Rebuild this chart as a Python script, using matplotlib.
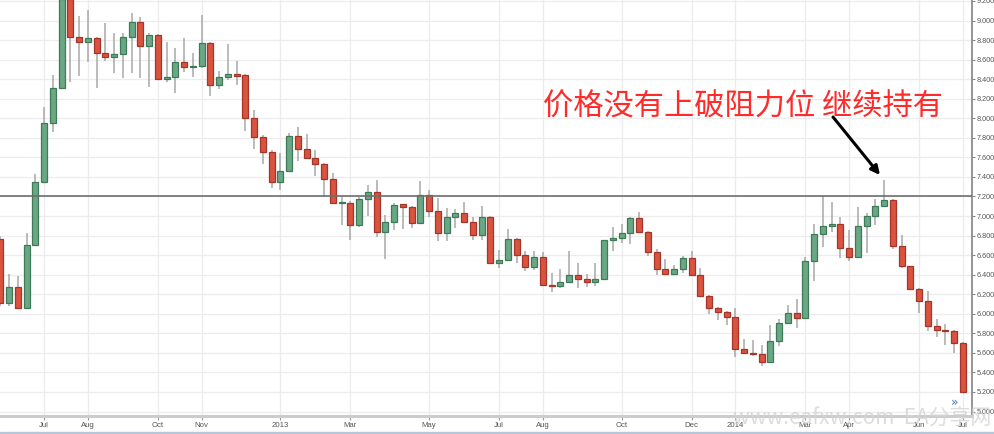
import matplotlib
matplotlib.use('Agg')
import matplotlib.pyplot as plt
import matplotlib.dates as mdates
from matplotlib.patches import Rectangle
import numpy as np
import pandas as pd

# ---- data (weekly candles) ----
first_week = '2012-05-28'
opens = [6.77, 6.11, 6.27, 6.06, 6.70, 7.35, 7.95, 8.31, 9.22, 8.83,
         8.78, 8.82, 8.67, 8.63, 8.66, 8.83, 8.99, 8.74, 8.85, 8.40,
         8.42, 8.58, 8.52, 8.53, 8.77, 8.34, 8.42, 8.45, 8.44, 8.00,
         7.81, 7.66, 7.35, 7.46, 7.82, 7.69, 7.59, 7.53, 7.38, 7.13,
         7.13, 6.91, 7.17, 7.25, 6.84, 6.94, 7.12, 7.09, 6.93, 7.22,
         7.05, 6.83, 6.99, 7.03, 6.94, 6.81, 6.99, 6.52, 6.55, 6.77,
         6.60, 6.48, 6.58, 6.29, 6.28, 6.33, 6.40, 6.36, 6.33, 6.36,
         6.75, 6.78, 6.83, 6.98, 6.84, 6.63, 6.46, 6.41, 6.46, 6.57,
         6.40, 6.18, 6.06, 6.02, 5.97, 5.64, 5.60, 5.59, 5.51, 5.72,
         5.91, 6.01, 5.96, 6.54, 6.82, 6.90, 6.92, 6.67, 6.58, 6.90,
         7.00, 7.10, 7.16, 6.69, 6.49, 6.25, 6.13, 5.88, 5.83, 5.82,
         5.70]
highs = [6.80, 6.41, 6.39, 6.83, 7.43, 8.12, 8.44, 9.25, 9.24, 9.05,
         9.11, 8.83, 8.97, 8.87, 8.87, 9.08, 9.04, 8.87, 8.86, 8.78,
         8.72, 8.82, 8.67, 9.06, 8.78, 8.48, 8.76, 8.59, 8.45, 8.08,
         7.83, 7.68, 7.64, 7.85, 7.91, 7.84, 7.68, 7.54, 7.44, 7.19,
         7.15, 7.19, 7.32, 7.37, 7.01, 7.13, 7.12, 7.10, 7.36, 7.27,
         7.18, 7.08, 7.07, 7.14, 6.99, 7.10, 7.00, 6.65, 6.87, 6.78,
         6.64, 6.64, 6.63, 6.42, 6.46, 6.64, 6.52, 6.41, 6.52, 6.76,
         6.89, 6.92, 6.99, 7.04, 6.85, 6.66, 6.56, 6.50, 6.59, 6.64,
         6.47, 6.19, 6.07, 6.03, 6.06, 5.74, 5.73, 5.68, 5.89, 5.95,
         6.09, 6.15, 6.58, 6.92, 7.20, 7.14, 6.99, 6.86, 7.09, 7.03,
         7.17, 7.37, 7.17, 6.81, 6.49, 6.26, 6.23, 5.95, 5.90, 5.83,
         5.71]
lows = [6.08, 6.08, 6.05, 6.05, 6.69, 7.34, 7.86, 8.30, 8.37, 8.43,
        8.58, 8.31, 8.59, 8.46, 8.41, 8.46, 8.41, 8.32, 8.39, 8.37,
        8.26, 8.47, 8.42, 8.51, 8.23, 8.30, 8.39, 8.34, 7.87, 7.69,
        7.53, 7.29, 7.27, 7.46, 7.56, 7.59, 7.41, 7.19, 7.12, 6.91,
        6.76, 6.89, 7.00, 6.79, 6.56, 6.86, 6.87, 6.88, 6.93, 6.99,
        6.74, 6.74, 6.88, 6.94, 6.76, 6.76, 6.51, 6.47, 6.54, 6.52,
        6.44, 6.45, 6.28, 6.22, 6.26, 6.33, 6.26, 6.27, 6.28, 6.36,
        6.64, 6.72, 6.71, 6.83, 6.59, 6.40, 6.40, 6.40, 6.42, 6.40,
        6.17, 6.00, 5.94, 5.89, 5.56, 5.59, 5.57, 5.47, 5.50, 5.67,
        5.91, 5.85, 5.95, 6.34, 6.68, 6.84, 6.57, 6.54, 6.58, 6.62,
        6.91, 7.09, 6.66, 6.47, 6.25, 6.01, 5.82, 5.76, 5.68, 5.60,
        5.19]
closes = [6.11, 6.27, 6.06, 6.70, 7.35, 7.95, 8.31, 9.22, 8.83, 8.78,
          8.82, 8.67, 8.63, 8.66, 8.83, 8.99, 8.74, 8.85, 8.40, 8.42,
          8.58, 8.52, 8.53, 8.77, 8.34, 8.42, 8.45, 8.43, 8.00, 7.81,
          7.66, 7.35, 7.46, 7.82, 7.69, 7.59, 7.53, 7.38, 7.13, 7.14,
          6.91, 7.17, 7.25, 6.84, 6.94, 7.11, 7.09, 6.93, 7.22, 7.05,
          6.83, 6.99, 7.03, 6.94, 6.81, 6.99, 6.52, 6.55, 6.77, 6.60,
          6.48, 6.58, 6.29, 6.28, 6.33, 6.40, 6.36, 6.33, 6.36, 6.75,
          6.78, 6.83, 6.98, 6.84, 6.63, 6.46, 6.41, 6.46, 6.57, 6.40,
          6.18, 6.06, 6.02, 5.97, 5.64, 5.60, 5.59, 5.51, 5.72, 5.91,
          6.01, 5.96, 6.54, 6.82, 6.90, 6.92, 6.67, 6.58, 6.90, 7.00,
          7.10, 7.16, 6.69, 6.49, 6.25, 6.13, 5.88, 5.83, 5.82, 5.70,
          5.20]

resistance = 7.20
y_ticks = [5.0, 5.2, 5.4, 5.6, 5.8, 6.0, 6.2, 6.4, 6.6, 6.8, 7.0,
           7.2, 7.4, 7.6, 7.8, 8.0, 8.2, 8.4, 8.6, 8.8, 9.0, 9.2]
tick_months = ['2012-07', '2012-08', '2012-10', '2012-11', '2013-01', '2013-03',
               '2013-05', '2013-07', '2013-08', '2013-10', '2013-12', '2014-01',
               '2014-03', '2014-04', '2014-06', '2014-07']
tick_labels = ['Jul', 'Aug', 'Oct', 'Nov', '2013', 'Mar', 'May', 'Jul', 'Aug',
               'Oct', 'Dec', '2014', 'Mar', 'Apr', 'Jun', 'Jul']
note_text = '价格没有上破阻力位 继续持有'
watermark = 'www.eafxw.com  EA分享网'

# ---- figure ----
W, H = 994, 434
fig = plt.figure(figsize=(W / 100, H / 100), dpi=100)
fig.patch.set_facecolor('white')
ax = fig.add_axes([0, 1 - 416 / H, 972 / W, 416 / H])

dates = pd.date_range(first_week, periods=len(opens), freq='7D')
x = mdates.date2num(dates)
o = np.array(opens); h = np.array(highs); l = np.array(lows); c = np.array(closes)
up = c >= o

green_fill, green_edge = '#6aa784', '#3f7a58'
red_fill, red_edge = '#d9533f', '#a3352a'
wick_col = '#a8a8a8'

ax.vlines(x, l, h, color=wick_col, lw=1.1, zorder=2)
body_w = 4.7
bottoms = np.minimum(o, c)
heights = np.maximum(np.abs(c - o), 0.012)
ax.bar(x[up], heights[up], bottom=bottoms[up], width=body_w,
       color=green_fill, edgecolor=green_edge, linewidth=0.9, zorder=3)
ax.bar(x[~up], heights[~up], bottom=bottoms[~up], width=body_w,
       color=red_fill, edgecolor=red_edge, linewidth=0.9, zorder=3)

ax.axhline(resistance, color='#6e6e6e', lw=1.2, zorder=4)

ax.set_ylim(9.2 - 415 / 97.75, 9.2 + 1 / 97.75)
ax.set_xlim(x[0] - 0.046 * 7, x[0] + 111.04 * 7)

# ticks
ax.yaxis.tick_right()
ax.set_yticks(y_ticks)
ax.set_yticklabels([f'{v:.3f}' for v in y_ticks], family='Liberation Sans')
tick_pos = []
for m in tick_months:
    ms = pd.Timestamp(m + '-01')
    idx = int(np.argmax(dates >= ms))
    tick_pos.append(x[idx])
ax.set_xticks(tick_pos)
ax.set_xticklabels(tick_labels, family='Liberation Sans')
ax.tick_params(axis='y', direction='out', length=2.5, width=0.8, colors='#888888',
               labelcolor='#555555', labelsize=5.2, pad=1)
ax.tick_params(axis='x', direction='out', length=3, width=0.8, colors='#999999',
               labelcolor='#555555', labelsize=5.6, pad=1.5)

ax.grid(True, color='#ececec', lw=0.9, zorder=0)
ax.set_axisbelow(True)
for s in ['top', 'left']:
    ax.spines[s].set_visible(False)
ax.spines['right'].set_color('#8c8c8c')
ax.spines['right'].set_linewidth(1.3)
ax.spines['bottom'].set_color('#cccccc')
ax.spines['bottom'].set_linewidth(2.2)

# annotation text & arrow
fig.text(543 / W, 1 - 107 / H, note_text, color='#ff2b2b', fontsize=21.8,
         family=['Noto Sans CJK SC', 'DejaVu Sans'], va='center', ha='left')
ax.annotate('', xy=(880, H - 175), xycoords='figure pixels',
            xytext=(833, H - 117), textcoords='figure pixels',
            arrowprops=dict(arrowstyle='-|>', color='black', lw=2.2,
                            mutation_scale=13, shrinkA=0, shrinkB=0))

# scroll button glyph and watermark
fig.text(955 / W, 1 - 402 / H, '»', color='#4a78b8', fontsize=9,
         ha='center', va='center')
fig.text(862 / W, 1 - 419 / H, watermark, color='#d4d4d4', alpha=0.8,
         fontsize=15, ha='center', va='center',
         family=['Noto Sans CJK SC', 'DejaVu Sans'])

# bottom band
fig.patches.append(Rectangle((0, 0), 1, 2.5 / H, transform=fig.transFigure,
                             color='#b9c6d6', zorder=0))

fig.savefig('out.png', dpi=100, facecolor='white')
